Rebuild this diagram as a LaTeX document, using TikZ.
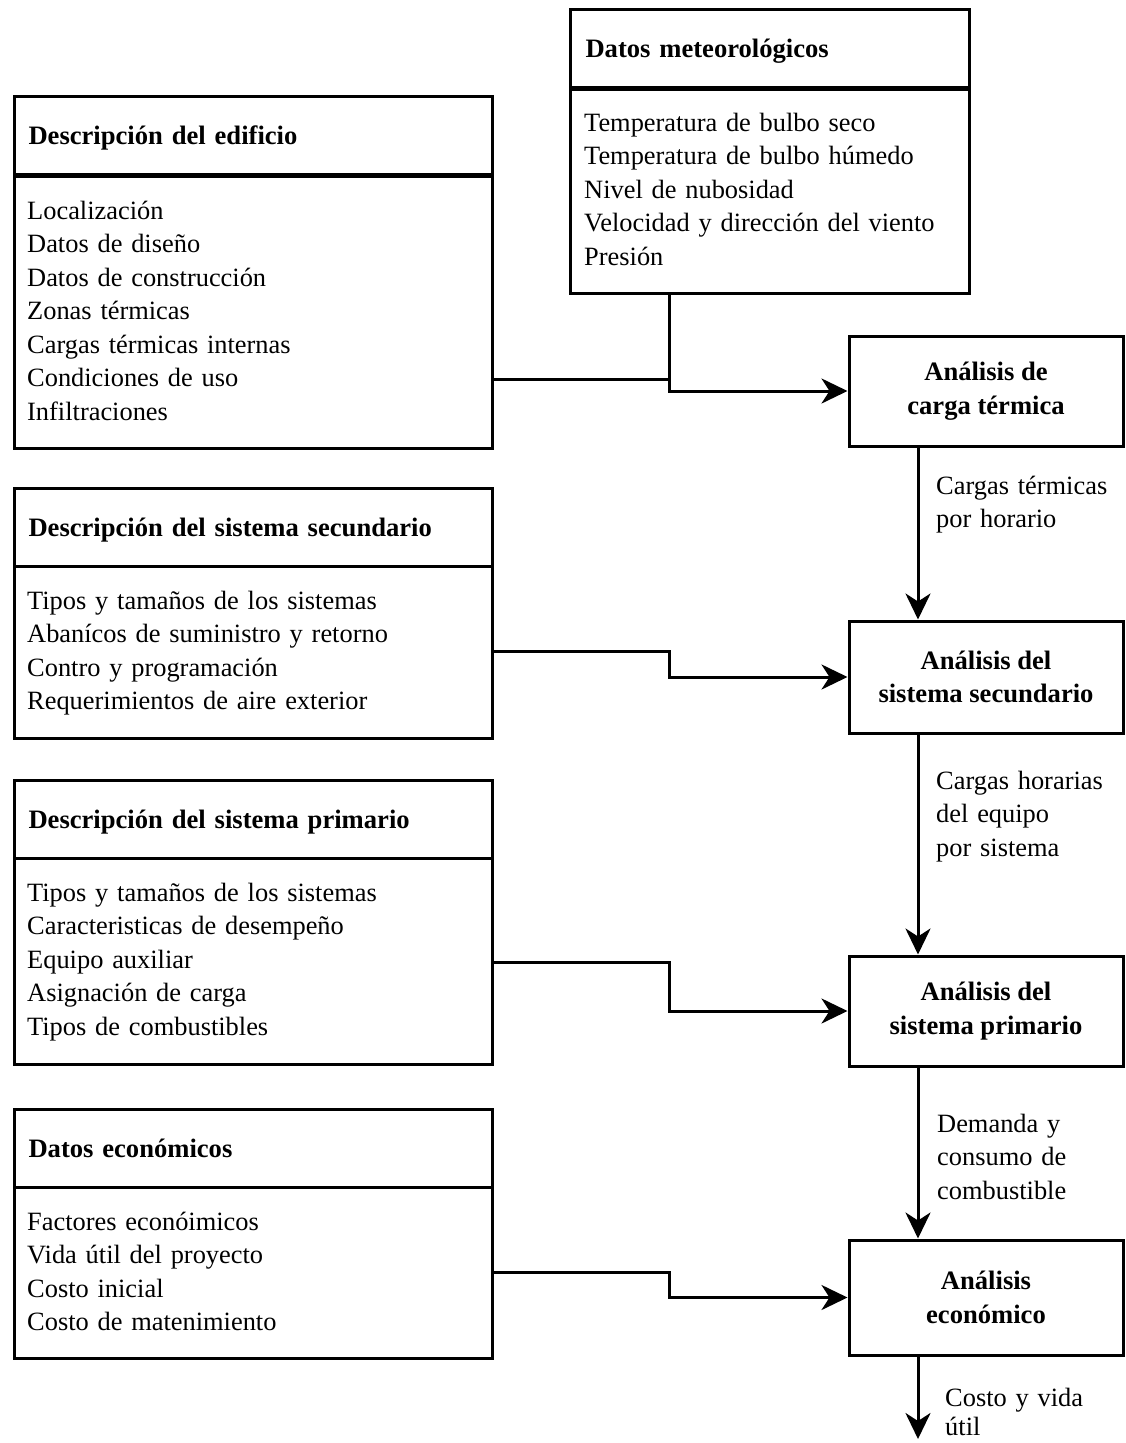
\documentclass[tikz,border=0pt]{standalone}
\usepackage{fontspec}
\setmainfont{Liberation Serif}
\usetikzlibrary{arrows.meta}
\begin{document}
\begin{tikzpicture}[x=1pt,y=-1pt,
  every node/.style={inner sep=0pt},
  txt/.style={font=\fontsize{26.4}{33.5}\selectfont},
  box/.style={draw, line width=3pt},
  head/.style={box, anchor=north west, minimum height=78pt, align=left,
    font=\fontsize{26.6}{33.5}\selectfont\bfseries, text height=18pt, text depth=0pt},
  body/.style={box, anchor=north west},
  list/.style={txt, anchor=base west, align=left, text width=450pt},
  ana/.style={box, minimum width=274pt, align=center,
    font=\fontsize{26.6}{33.5}\selectfont\bfseries},
  lab/.style={txt, anchor=base west, align=left, text width=180pt},
  conn/.style={line width=3pt},
  arr/.style={conn, -{Stealth[length=26pt, width=25pt, inset=8pt]}}
]
\useasboundingbox (0,0) rectangle (1126,1443);

% weather data
\node[head, minimum width=399pt, text width=369pt] (meteoH) at (569,8) {Datos meteorológicos};
\node[body, minimum width=399pt, minimum height=204pt] (meteoB) at (569,88) {};
\node[list] (meteoL) at (584,131) {Temperatura de bulbo seco\\Temperatura de bulbo húmedo\\Nivel de nubosidad\\Velocidad y dirección del viento\\Presión};

% building description
\node[head, minimum width=478pt, text width=450pt] (edifH) at (13,95) {Descripción del edificio};
\node[body, minimum width=478pt, minimum height=272pt] (edifB) at (13,175) {};
\node[list] (edifL) at (27,219) {Localización\\Datos de diseño\\Datos de construcción\\Zonas térmicas\\Cargas térmicas internas\\Condiciones de uso\\Infiltraciones};

% secondary system description
\node[head, minimum width=478pt, text width=450pt] (secH) at (13,487) {Descripción del sistema secundario};
\node[body, minimum width=478pt, minimum height=172pt] (secB) at (13,565) {};
\node[list] (secL) at (27,609) {Tipos y tamaños de los sistemas\\Abanícos de suministro y retorno\\Contro y programación\\Requerimientos de aire exterior};

% primary system description
\node[head, minimum width=478pt, text width=450pt] (primH) at (13,779) {Descripción del sistema primario};
\node[body, minimum width=478pt, minimum height=206pt] (primB) at (13,857) {};
\node[list] (primL) at (27,901) {Tipos y tamaños de los sistemas\\Caracteristicas de desempeño\\Equipo auxiliar\\Asignación de carga\\Tipos de combustibles};

% economic data
\node[head, minimum width=478pt, text width=450pt] (ecoH) at (13,1108) {Datos económicos};
\node[body, minimum width=478pt, minimum height=171pt] (ecoB) at (13,1186) {};
\node[list] (ecoL) at (27,1230) {Factores econóimicos\\Vida útil del proyecto\\Costo inicial\\Costo de matenimiento};

% analysis chain
\node[ana, minimum height=110pt] (carga) at (986,391) {Análisis de\\carga térmica};
\node[ana, minimum height=112pt] (asec) at (986,677) {Análisis del\\sistema secundario};
\node[ana, minimum height=110pt] (aprim) at (986,1011) {Análisis del\\sistema primario};
\node[ana, minimum height=115pt] (aeco) at (986,1297.5) {Análisis\\económico};

% routing points
\coordinate (v) at (918,0);
\coordinate (j1) at (669,379);
\coordinate (j2) at (669,651);
\coordinate (j3) at (669,962);
\coordinate (j4) at (669,1272);
\coordinate (fin) at (918,1439);

% inputs
\draw[conn] (edifB.east |- j1) -- (j1);
\draw[arr] (j1 |- meteoB.south) -- (j1 |- carga.west) -- (carga.west);
\draw[arr] (secB.east |- j2) -- (j2) |- (asec.west);
\draw[arr] (primB.east |- j3) -- (j3) |- (aprim.west);
\draw[arr] (ecoB.east |- j4) -- (j4) |- (aeco.west);

% results passed down
\draw[arr] (carga.south -| v) -- (asec.north -| v);
\draw[arr] (asec.south -| v) -- (aprim.north -| v);
\draw[arr] (aprim.south -| v) -- (aeco.north -| v);
\draw[arr] (aeco.south -| v) -- (fin);

\node[lab] (lab1) at (936,494) {Cargas térmicas\\por horario};
\node[lab] (lab2) at (936,789) {Cargas horarias\\del equipo\\por sistema};
\node[lab] (lab3) at (937,1132) {Demanda y\\consumo de\\combustible};
\node[lab] (lab4) at (945,1406) {Costo y vida\\[-4pt]útil};
\end{tikzpicture}
\end{document}
